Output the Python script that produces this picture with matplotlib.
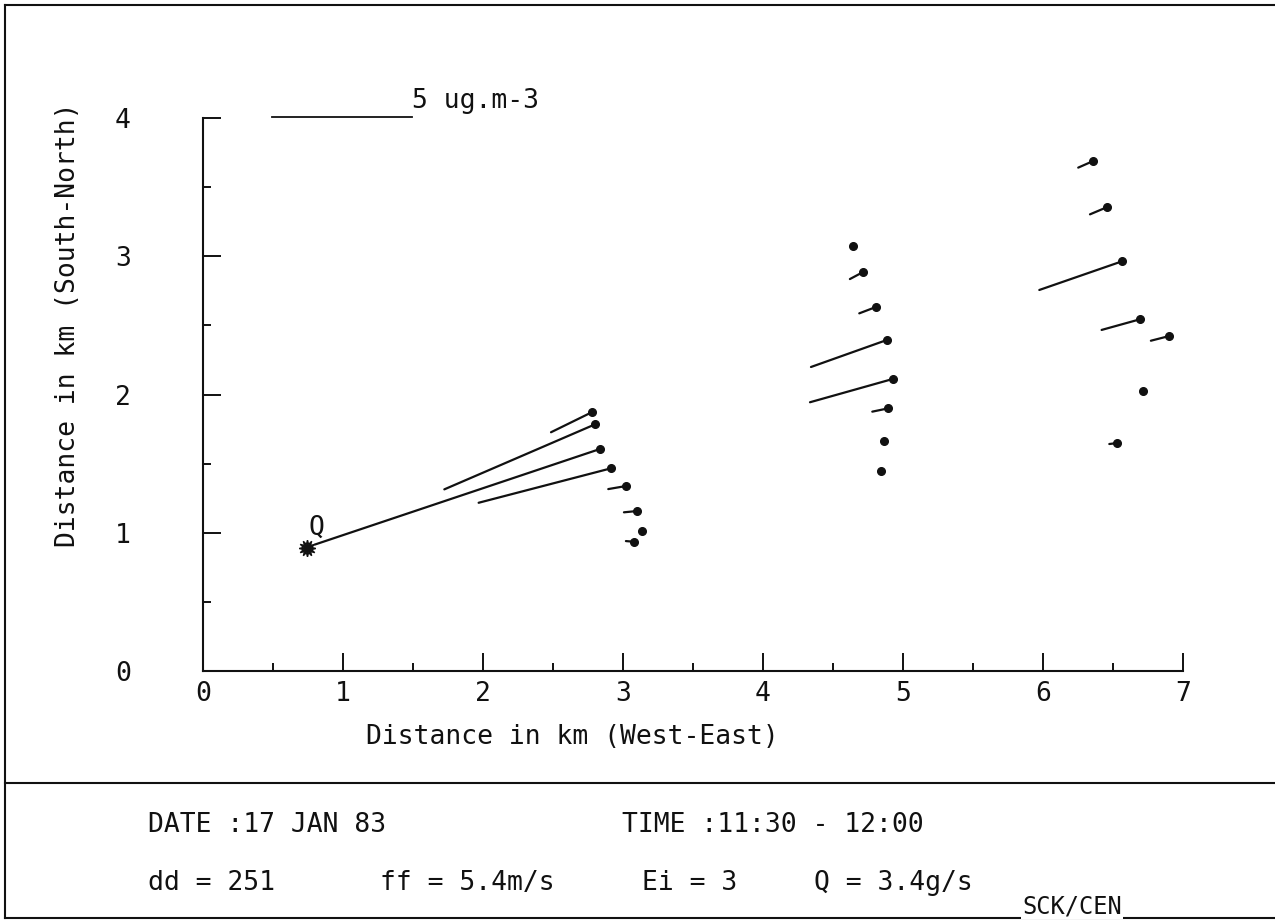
import matplotlib
matplotlib.use("Agg")
import matplotlib.pyplot as plt
from matplotlib.lines import Line2D

# ---- 数据:源点 + 各测点浓度段(起点 -> 终点,终点画圆点)----
src_x, src_y = 0.745, 0.89

end_x = [2.776, 2.800, 2.836, 2.914, 3.021, 3.098, 3.136, 3.079,
         4.645, 4.712, 4.807, 4.884, 4.926, 4.895, 4.864, 4.841,
         6.355, 6.455, 6.564, 6.693, 6.902, 6.712, 6.531]
end_y = [1.871, 1.784, 1.606, 1.466, 1.338, 1.157, 1.015, 0.935,
         3.074, 2.884, 2.633, 2.394, 2.112, 1.900, 1.662, 1.449,
         3.687, 3.354, 2.963, 2.544, 2.423, 2.027, 1.649]
start_x = [2.486, 1.724, 0.800, 1.969, 2.895, 3.007, 3.136, 3.021,
           4.645, 4.621, 4.688, 4.343, 4.336, 4.781, 4.864, 4.841,
           6.252, 6.336, 5.974, 6.419, 6.771, 6.712, 6.474]
start_y = [1.727, 1.314, 0.915, 1.217, 1.316, 1.148, 1.015, 0.940,
           3.074, 2.835, 2.587, 2.199, 1.944, 1.876, 1.662, 1.449,
           3.641, 3.303, 2.756, 2.467, 2.389, 2.027, 1.642]

scale_km = 1.0            # 比例尺长度 (km) 对应 5 ug.m-3
scale_label = "5 ug.m-3"

x_ticks = [0, 1, 2, 3, 4, 5, 6, 7]
y_ticks = [0, 1, 2, 3, 4]

INK = "#111111"
plt.rcParams["font.family"] = ["DejaVu Sans Mono"]
FS = 19

fig = plt.figure(figsize=(12.75, 9.21), dpi=100)
ax = fig.add_axes([0.1592, 0.2714, 0.7686, 0.6005])
ax.set_xlim(0, 7)
ax.set_ylim(0, 4)

for k in ("top", "right"):
    ax.spines[k].set_visible(False)
for k in ("left", "bottom"):
    ax.spines[k].set_linewidth(1.5)
    ax.spines[k].set_color(INK)

ax.set_xticks(x_ticks)
ax.set_yticks(y_ticks)
ax.set_xticks([t + 0.5 for t in x_ticks[:-1]], minor=True)
ax.set_yticks([t + 0.5 for t in y_ticks[:-1]], minor=True)
ax.tick_params(which="major", direction="in", length=13, width=1.4, color=INK,
               labelsize=FS, labelcolor=INK)
ax.tick_params(which="minor", direction="in", length=5.5, width=1.4, color=INK)
ax.tick_params(axis="x", pad=7)
ax.tick_params(axis="y", pad=52)

ax.set_xlabel("Distance in km (West-East)", fontsize=FS, color=INK)
ax.xaxis.label.set_va("center")
ax.xaxis.set_label_coords(0.3765, -0.119)
ax.set_ylabel("Distance in km (South-North)", fontsize=FS, color=INK)
ax.yaxis.label.set_va("center")
ax.yaxis.set_label_coords(-0.138, 0.626)

# 浓度段
for sx, sy, ex, ey in zip(start_x, start_y, end_x, end_y):
    ax.plot([sx, ex], [sy, ey], "-", color=INK, lw=1.6, solid_capstyle="round")
ax.plot(end_x, end_y, "o", color=INK, ms=5.5, mec=INK)

# 源点 Q
ax.plot([src_x], [src_y], marker=(12, 1, 0), color=INK, ms=12, clip_on=False)
ax.text(src_x + 0.01, src_y + 0.05, "Q", fontsize=FS, color=INK,
        ha="left", va="bottom")

# 比例尺
sb_x0, sb_y = 0.49, 4.01
ax.plot([sb_x0, sb_x0 + scale_km], [sb_y, sb_y], "-", color=INK, lw=1.3, clip_on=False)
ax.text(sb_x0 + scale_km, sb_y + 0.02, scale_label, fontsize=FS, color=INK,
        ha="left", va="bottom")

# ---- 外框与页脚 ----
W, H = 1275, 921
def px(x, y):
    return x / W, 1 - y / H

def fline(x0, y0, x1, y1, lw=1.5):
    (a, b), (c, d) = px(x0, y0), px(x1, y1)
    fig.add_artist(Line2D([a, c], [b, d], transform=fig.transFigure,
                          color=INK, lw=lw))

fline(5, 5, W, 5)
fline(5, 5, 5, 918)
fline(5, 783, W, 783)
fline(5, 918, W, 918)

footer = [
    (148, 825, "DATE :17 JAN 83"),
    (622, 825, "TIME :11:30 - 12:00"),
    (148, 883, "dd = 251"),
    (380, 883, "ff = 5.4m/s"),
    (642, 883, "Ei = 3"),
    (814, 883, "Q = 3.4g/s"),
]
for x, y, s in footer:
    fx, fy = px(x, y)
    fig.text(fx, fy, s, fontsize=FS, color=INK, ha="left", va="center")

fx, fy = px(1022, 918)
fig.text(fx, fy, "SCK/CEN", fontsize=FS - 2, color=INK, ha="left", va="bottom",
         bbox=dict(facecolor="white", edgecolor="none", pad=1))

fig.savefig("out.png", dpi=100, facecolor="white")
